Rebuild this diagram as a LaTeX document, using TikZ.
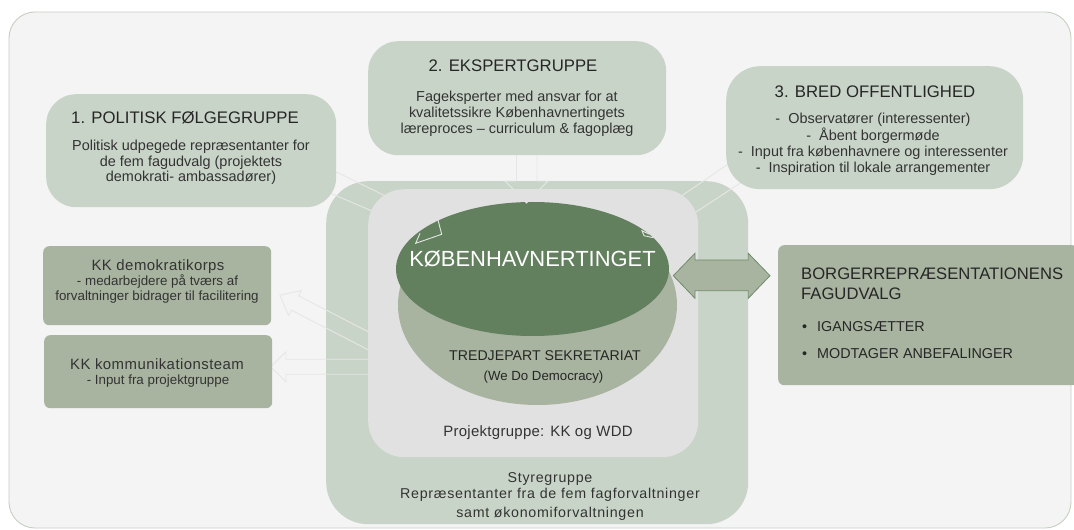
\documentclass[tikz,border=0pt]{standalone}
\usepackage{fontspec}
\usetikzlibrary{shapes.geometric}
\setmainfont{Liberation Sans}
\newfontfamily\lsA[LetterSpace=5]{Liberation Sans}
\newfontfamily\lsB[LetterSpace=3]{Liberation Sans}
\newfontfamily\lsC[LetterSpace=2]{Liberation Sans}
\newcommand\fsz[1]{\fontsize{#1}{#1}\selectfont}
\definecolor{bgc}{HTML}{F4F4F4}
\definecolor{bordc}{HTML}{C6CFC2}
\definecolor{sage}{HTML}{C9D4C8}
\definecolor{sagedk}{HTML}{A8B4A0}
\definecolor{pgray}{HTML}{E1E1E1}
\definecolor{kgreen}{HTML}{62805E}
\definecolor{txtc}{HTML}{333333}
\definecolor{arrline}{HTML}{E6E6E6}
\definecolor{arroutl}{HTML}{6F8C69}
\tikzset{
  lbl/.style={anchor=base,inner sep=0pt,text=txtc},
  lblw/.style={anchor=base west,inner sep=0pt,text=txtc},
  sagebox/.style={rectangle,fill=sage,inner sep=0pt,anchor=north west},
  darkbox/.style={rectangle,fill=sagedk,inner sep=0pt,anchor=north west,rounded corners=6bp},
  aline/.style={draw=arrline,line width=0.9bp},
}
\begin{document}
\begin{tikzpicture}[x=1bp,y=-1bp]
\fill[white] (0,0) rectangle (1074,530);
\useasboundingbox (0,0) rectangle (1074,530);
% outer frame
\draw[fill=bgc,draw=bordc,line width=0.9bp,rounded corners=26bp] (9,12) rectangle (1071,528);
% Styregruppe
\node[sagebox,rounded corners=42bp,minimum width=422bp,minimum height=343bp] (styr) at (326,181) {};
% arrow outlines (behind Projektgruppe)
\draw[aline] (380,337.8) -- (298.7,295.9) -- (301.4,290.5) -- (279.9,295.2) -- (288.6,315.5) -- (291.3,310.1) -- (380,355.9);
\draw[aline] (380,359.3) -- (286,359.3) -- (286,351.7) -- (270.7,366.7) -- (286,381.7) -- (286,374.3) -- (380,374.3);
\coordinate (a1s) at (330,168.9); \coordinate (a1e) at (395,200.6);
\coordinate (a1s2) at (320,188.7); \coordinate (a1e2) at (385,216.6);
\draw[aline] (a1s) -- (a1e); \draw[aline] (a1s2) -- (a1e2);
\coordinate (a2l) at (516.5,150); \coordinate (a2r) at (537,150);
\draw[aline] (a2l) -- (516.5,181) -- (505,181) -- (526.5,202.5) -- (548,181) -- (537,181) -- (a2r);
\coordinate (a3s) at (732,161.5); \coordinate (a3e) at (672,202.4);
\coordinate (a3s2) at (748,178); \coordinate (a3e2) at (686,218.6);
\draw[aline] (a3s) -- (a3e); \draw[aline] (a3s2) -- (a3e2);
% Projektgruppe
\node[sagebox,fill=pgray,rounded corners=36bp,minimum width=330bp,minimum height=268bp] (proj) at (368,189) {};
% cylinder ellipses
\fill[sagedk] (537.5,305) ellipse[x radius=139.5,y radius=100];
\node[ellipse,fill=kgreen,minimum width=273bp,minimum height=134bp,inner sep=0pt] (kbh) at (532.5,269) {};
% arrow fragments on the ellipse
\draw[aline,line join=miter] (438,220) -- (441.7,234.3) -- (415.7,243.3) -- (420,233.3);
\draw[aline] (524.5,200.8) -- (526.5,203) -- (528.5,200.8);
\draw[aline] (653.3,237.7) -- (644,235.7) -- (642,230.7) -- (649.5,234.3);
% top boxes
\node[sagebox,rounded corners=30bp,minimum width=290bp,minimum height=113bp] (b1) at (46,94) {};
\node[sagebox,rounded corners=30bp,minimum width=298bp,minimum height=114bp] (b2) at (368,41) {};
\node[sagebox,rounded corners=34bp,minimum width=297bp,minimum height=123bp] (b3) at (726,66) {};
% left boxes
\node[darkbox,minimum width=228bp,minimum height=79bp] (kk1) at (43,246) {};
\node[darkbox,minimum width=228bp,minimum height=73bp] (kk2) at (44,335) {};
% double arrow
\draw[fill=sagedk,draw=arroutl,line width=0.8bp,line join=miter]
  (673.3,275.7) -- (695,253.3) -- (695,260) -- (748.3,260) -- (748.3,253.3) -- (770,275.7)
  -- (748.3,298.3) -- (748.3,290.7) -- (695,290.7) -- (695,298.3) -- cycle;
% Borgerrepraesentationen box
\node[darkbox,minimum width=300bp,minimum height=140bp] (borg) at (778,245) {};
% ---------- texts ----------
\node[lbl,text=white] (tk) at (532.5,267) {\fsz{22}KØBENHAVNERTINGET};
\node[lbl,text=black!85] (tt) at (545,360.7) {\fsz{14.2}TREDJEPART SEKRETARIAT};
\node[lbl,text=black!85] (tw) at (543.5,381) {\fsz{13.3}(We Do Democracy)};
\node[lbl] (tp) at (538,436) {\lsC\fsz{15}Projektgruppe: KK og WDD};
\node[lbl] (ts1) at (550,482.3) {\lsA\fsz{14.3}Styregruppe};
\node[lbl] (ts2) at (550,498.8) {\lsA\fsz{14.3}Repræsentanter fra de fem fagforvaltninger};
\node[lbl] (ts3) at (550,517.3) {\lsA\fsz{14.3}samt økonomiforvaltningen};
% box 1
\node[lbl,text=black!85] (h1) at (185,124) {\fsz{16.8}1. POLITISK FØLGEGRUPPE};
\node[lbl] (p11) at (191,150.7) {\fsz{14.5}Politisk udpegede repræsentanter for};
\node[lbl] (p12) at (191,166.3) {\fsz{14.5}de fem fagudvalg (projektets};
\node[lbl] (p13) at (191,181.9) {\fsz{14.5}demokrati- ambassadører)};
% box 2
\node[lbl,text=black!85] (h2) at (513,72) {\fsz{16.8}2. EKSPERTGRUPPE};
\node[lbl] (p21) at (517,101.5) {\fsz{14.5}Fageksperter med ansvar for at};
\node[lbl] (p22) at (517,117.5) {\fsz{14.5}kvalitetssikre Københavnertingets};
\node[lbl] (p23) at (517,133.5) {\fsz{14.5}læreproces – curriculum \& fagoplæg};
% box 3
\node[lbl,text=black!85] (h3) at (875,98) {\fsz{16.8}3. BRED OFFENTLIGHED};
\node[lbl] (p31) at (873,124) {\fsz{14.5}-\ \ Observatører (interessenter)};
\node[lbl] (p32) at (873,140.5) {\fsz{14.5}-\ \ Åbent borgermøde};
\node[lbl] (p33) at (873,157) {\fsz{14.5}-\ \ Input fra københavnere og interessenter};
\node[lbl] (p34) at (873,173) {\fsz{14.5}-\ \ Inspiration til lokale arrangementer};
% left boxes text
\node[lbl] (k11) at (158,270.5) {\lsB\fsz{15}KK demokratikorps};
\node[lbl] (k12) at (157.5,285.5) {\fsz{13.4}- medarbejdere på tværs af};
\node[lbl] (k13) at (157,300.5) {\fsz{13.4}forvaltninger bidrager til facilitering};
\node[lbl] (k21) at (157,369.5) {\lsB\fsz{15}KK kommunikationsteam};
\node[lbl] (k22) at (158,384.5) {\fsz{13.4}- Input fra projektgruppe};
% Borger box text
\node[lblw,text=black!85] (g1) at (801,280) {\fsz{16.7}BORGERREPRÆSENTATIONENS};
\node[lblw,text=black!85] (g2) at (801,300) {\fsz{16.7}FAGUDVALG};
\node[lblw,text=black!85] (g3) at (802,331.7) {\fsz{14.4}•};
\node[lblw,text=black!85] (g4) at (817,331.7) {\fsz{14.4}IGANGSÆTTER};
\node[lblw,text=black!85] (g5) at (802,359) {\fsz{14.4}•};
\node[lblw,text=black!85] (g6) at (817,359) {\fsz{14.4}MODTAGER ANBEFALINGER};
\end{tikzpicture}
\end{document}
